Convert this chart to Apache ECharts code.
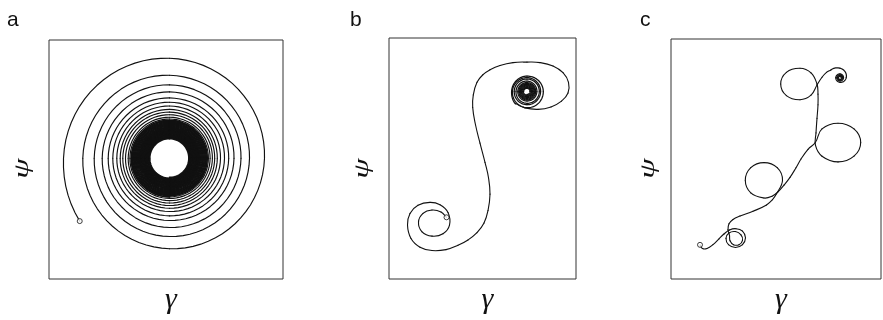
<!DOCTYPE html>
<html>
<head>
<meta charset="utf-8">
<script src="https://cdn.jsdelivr.net/npm/echarts@6/dist/echarts.min.js"></script>
<style>
  html, body { margin: 0; padding: 0; background: #fff; }
  #chart { width: 883px; height: 320px; }
</style>
</head>
<body>
<div id="chart"></div>
<script>
// ---------- data ----------
// Panel a: a single trajectory spiralling in from the open circle.
// First sample as [radius, angle°]; then radii every quarter turn,
// clockwise, starting on the left (180°).
const spiralAStart = [109.6, 215];
const spiralACenter = [120.5, 124.3];          // (γ, ψ) of the centre
const spiralAOuter = [
  106, 100, 95, 90.5,   86.7, 83, 80, 78.3,   75.3, 73.4, 71.5, 69.3,
  67.3, 66.3, 64.5, 62.3,   61.3, 60.3, 59.2, 57.6,   56.7, 56, 55, 53.3,
  52.7, 52.2, 51, 50,   49.3, 48.8, 47.8, 47.3,   46.7, 46.1, 45.2, 44.8,
  44, 43.5, 42.9, 42.4,   41.3, 41, 40.6, 40.2,   39.6, 39.2, 38.9, 38.6
];
const spiralACore = [
  38.2, 37.9, 37.7, 37.4,  37.2, 36.9, 36.7, 36.4,  36.2, 35.9, 35.7, 35.4,
  35.2, 34.9, 34.7, 34.4,  34.2, 33.9, 33.7, 33.4,  33.2, 32.9, 32.7, 32.4,
  32.2, 31.9, 31.7, 31.4,  31.2, 30.9, 30.7, 30.4,  30.2, 30.0, 29.8, 29.6,
  29.4, 29.2, 29.0, 28.8,  28.6, 28.4, 28.2, 28.0,  27.8, 27.6, 27.4, 27.2,
  27.0, 26.8, 26.6, 26.4,  26.2, 26.0, 25.8, 25.6,  25.4, 25.2, 25.0, 24.8,
  24.6, 24.4, 24.2, 24.0,  23.8, 23.6, 23.4, 23.2,  23.0, 22.8, 22.6, 22.4,
  22.2, 22.0, 21.8, 21.6,  21.4, 21.2, 21.0, 20.8,  20.6, 20.4, 20.2, 20.0,
  19.8, 19.6, 19.4, 19.2
];

// Panel b: path (γ, ψ) from the open circle through the S, then the
// spiral into the upper-right focus.
const curveB = [
  [57.5, 64], [52, 69.5], [43, 71.5], [34, 68], [29.5, 59], [33, 49], [43, 44.5],
  [54, 47], [60.5, 56], [59, 69], [51, 77], [41, 79.5], [29, 76.5], [21, 68],
  [18.5, 56], [22, 42], [31, 33], [43, 29.5], [57, 30.5], [69, 35], [79, 40.5],
  [88, 48], [95, 58], [99, 71], [101, 88], [99.5, 105], [96, 121], [91, 141],
  [86.5, 160], [83.7, 178], [84.3, 191], [88, 204], [94, 212], [101, 217],
  [111, 221.5], [124, 224.5], [138, 225], [151, 224.5], [164, 221], [174, 214],
  [179.5, 204], [179, 193], [172.5, 184.5], [162, 178.5], [149, 176], [136, 177.5],
  [126.5, 182]
];
const spiralBCenter = [138, 194.5];
const spiralBStart = [17, 227];
const spiralBRadii = [
  15.4, 15.4, 16.3, 16.2,  14.6, 13.9, 13.6, 13.2,  12.8, 12.5, 12.3, 11.8,
  11.0, 10.4, 9.9, 9.5,   9.2, 8.9, 8.7, 8.4,   8.2, 8.0, 7.8, 7.6,
  7.4, 7.2, 7.0, 6.8,   6.6, 6.4, 6.2, 6.0,   5.8, 5.6, 5.4, 5.2,
  5.0, 4.8, 4.6, 4.4,   4.2, 4.0, 3.8, 3.6,   3.4, 3.2, 3.0, 2.9
];

// Panel c: path with three loops, ending in a small focus.
const curveC = [
  [29, 35.3], [31.5, 31.5], [36, 31.5], [42, 35.5], [48, 41.5], [53, 46.5],
  [58.5, 50.7], [65, 52], [71.5, 49.5], [74.5, 42.5], [71.5, 35.5], [64.5, 32.5],
  [57.5, 35.5], [55, 42], [58, 47.5], [64.5, 49], [70, 45.5], [71.5, 40],
  [68, 35.5], [62.5, 35.5], [59, 39.5], [58.5, 45], [57, 51], [58, 57],
  [62, 61.5], [69, 65], [82, 70], [95.5, 76.5], [101.5, 82], [105.5, 88],
  [111.5, 102], [106.2, 115.1], [93, 120.3], [79.8, 115.1], [74.3, 102],
  [79.8, 88.9], [93, 83.7], [101, 85.5], [107, 90], [113, 97], [119, 105],
  [125, 115], [130, 124], [137, 134], [144.3, 141],
  [151, 155.1], [167, 161], [183, 155.1], [189.7, 141], [183, 126.9], [167, 121],
  [151, 126.9], [144.5, 138], [145, 151], [146, 166], [147, 180], [147, 191],
  [146, 201.5], [140, 213], [129, 217.7], [115.4, 213.5], [109.7, 201.5],
  [115.4, 189.5], [129, 185.3], [140, 190], [146, 200.5], [151, 208.5],
  [155.5, 213.5], [160, 216]
];
const spiralCCenter = [169, 208];
const spiralCStart = [12, 138.4];
const spiralCRadii = [9.5, 6.2, 4.6, 4.2, 3.8, 3.5, 3.3, 3.1, 2.9, 2.7, 2.5, 2.3, 2.1, 1.9, 1.7, 1.5, 1.3, 1.1];

const panelLetters = ['a', 'b', 'c'];
const gammaMax = [234, 187, 210];
const psiMax = [246, 250, 248];

// ---------- layout ----------
const gridBoxes = [
  { left: 49, top: 40, width: 234, height: 246 },
  { left: 389, top: 38, width: 187, height: 250 },
  { left: 671, top: 39, width: 210, height: 248 }
];
const letterPos = [[7, 10], [350, 10], [640, 10]];
const psiLabelPos = [[22.5, 168.5], [362.5, 168.5], [649, 168.5]];
const ink = '#111';

// turn a radius list into [radius, angle] samples, one per quarter turn, clockwise
function quarterTurns(first, startAngle, radii) {
  const pts = [first];
  radii.forEach((r, i) => pts.push([r, startAngle - 90 * i]));
  return pts;
}

// Cartesian path: each item draws the cubic Bézier piece from the previous
// sample to itself, tangents taken from the neighbouring samples.
function smoothPath(coordOpts, data, smooth, width) {
  return Object.assign({
    type: 'custom', data: data, silent: true,
    renderItem: function (params, api) {
      const i = params.dataIndexInside, n = params.dataInsideLength;
      if (i === 0) return null;
      const pt = k => {
        k = Math.max(0, Math.min(n - 1, k));
        return api.coord([api.value(0, k), api.value(1, k)]);
      };
      const p0 = pt(i - 2), p1 = pt(i - 1), p2 = pt(i), p3 = pt(i + 1);
      const d = (a, b) => Math.hypot(a[0] - b[0], a[1] - b[1]);
      const dPrev = d(p1, p0), dMid = d(p2, p1), dNext = d(p3, p2);
      const r1 = (dPrev + dMid) > 0 ? dMid / (dPrev + dMid) : 0.5;
      const r2 = (dMid + dNext) > 0 ? dMid / (dMid + dNext) : 0.5;
      const c1 = [p1[0] + (p2[0] - p0[0]) * smooth * r1, p1[1] + (p2[1] - p0[1]) * smooth * r1];
      const c2 = [p2[0] - (p3[0] - p1[0]) * smooth * r2, p2[1] - (p3[1] - p1[1]) * smooth * r2];
      return {
        type: 'bezierCurve',
        shape: { x1: p1[0], y1: p1[1], cpx1: c1[0], cpy1: c1[1], cpx2: c2[0], cpy2: c2[1], x2: p2[0], y2: p2[1] },
        style: { stroke: ink, lineWidth: width, fill: null, lineCap: 'round' }
      };
    }
  }, coordOpts);
}

// Polar path: between two [radius, angle] samples the radius follows a cubic
// Hermite curve in angle, so each quarter turn is drawn as a true arc.
function spiralPath(polarIndex, data, width) {
  return {
    type: 'custom', coordinateSystem: 'polar', polarIndex: polarIndex, data: data, silent: true,
    renderItem: function (params, api) {
      const i = params.dataIndexInside, n = params.dataInsideLength;
      if (i === 0) return null;
      const s = k => {
        k = Math.max(0, Math.min(n - 1, k));
        return [api.value(0, k), api.value(1, k)];
      };
      const a = s(i - 2), b = s(i - 1), c = s(i), e = s(i + 1);
      const slope = (p, q) => (q[1] !== p[1] ? (q[0] - p[0]) / (q[1] - p[1]) : 0);
      const mb = slope(a, c), mc = slope(b, e);
      const h = c[1] - b[1];
      const steps = Math.max(2, Math.ceil(Math.abs(h) / 5));
      const points = [];
      for (let j = 0; j <= steps; j++) {
        const t = j / steps, t2 = t * t, t3 = t2 * t;
        const r = (2 * t3 - 3 * t2 + 1) * b[0] + (t3 - 2 * t2 + t) * h * mb
                + (-2 * t3 + 3 * t2) * c[0] + (t3 - t2) * h * mc;
        const p = api.coord([r, b[1] + h * t]);
        points.push([p[0], p[1]]);
      }
      return {
        type: 'polyline',
        shape: { points: points },
        style: { stroke: ink, lineWidth: width, fill: null, lineCap: 'round', lineJoin: 'round' }
      };
    }
  };
}

const chart = echarts.init(document.getElementById('chart'));

const serifItalic = { fontFamily: 'Liberation Serif', fontStyle: 'italic', fontSize: 30, color: ink };

chart.setOption({
  animation: false,
  title: panelLetters.map((t, i) => ({
    text: t, left: letterPos[i][0], top: letterPos[i][1], padding: 0,
    textStyle: { fontFamily: 'Liberation Sans', fontSize: 21, fontWeight: 'normal', color: ink }
  })),
  grid: gridBoxes.map(g => Object.assign({ show: true, borderColor: '#333', borderWidth: 1, backgroundColor: 'transparent' }, g)),
  xAxis: gammaMax.map((m, i) => ({
    type: 'value', gridIndex: i, min: 0, max: m,
    axisLine: { show: false }, axisTick: { show: false }, axisLabel: { show: false }, splitLine: { show: false },
    name: 'γ', nameLocation: 'middle', nameGap: 6,
    nameTextStyle: Object.assign({ padding: [0, 0, 0, 10] }, serifItalic)
  })),
  yAxis: psiMax.map((m, i) => ({
    type: 'value', gridIndex: i, min: 0, max: m,
    axisLine: { show: false }, axisTick: { show: false }, axisLabel: { show: false }, splitLine: { show: false }
  })),
  // ψ axis titles: rotated, set narrow and tall
  graphic: psiLabelPos.map(p => ({
    type: 'text', x: p[0], y: p[1], rotation: Math.PI / 2, scaleX: 1.1, scaleY: 0.68, silent: true,
    style: { text: 'ψ', font: 'italic 30px "Liberation Serif", serif', fill: ink, align: 'center', verticalAlign: 'middle' }
  }))
});

// polar frames sitting on each spiral centre, using the grid's own scale
function polarFrame(gridIndex, center, maxR) {
  const c = chart.convertToPixel({ gridIndex }, center);
  const o = chart.convertToPixel({ gridIndex }, [0, 0]);
  const u = chart.convertToPixel({ gridIndex }, [1, 0]);
  return { center: c, radius: maxR * (u[0] - o[0]) };
}
const polarMax = [112, 20, 14];
const frames = [
  polarFrame(0, spiralACenter, polarMax[0]),
  polarFrame(1, spiralBCenter, polarMax[1]),
  polarFrame(2, spiralCCenter, polarMax[2])
];

const samplesA = quarterTurns(spiralAStart, 180, spiralAOuter.concat(spiralACore));
const startMark = { color: '#fff', borderColor: ink, borderWidth: 1 };

chart.setOption({
  polar: frames.map(f => ({ center: f.center, radius: f.radius })),
  angleAxis: frames.map((f, i) => ({
    polarIndex: i, type: 'value', min: 0, max: 360, startAngle: 0, clockwise: false, show: false
  })),
  radiusAxis: frames.map((f, i) => ({
    polarIndex: i, type: 'value', min: 0, max: polarMax[i], show: false
  })),
  series: [
    spiralPath(0, samplesA.slice(0, spiralAOuter.length + 2), 1.15),
    spiralPath(0, samplesA.slice(spiralAOuter.length), 1.7),
    smoothPath({ coordinateSystem: 'cartesian2d', xAxisIndex: 1, yAxisIndex: 1 }, curveB, 0.42, 1.1),
    spiralPath(1, quarterTurns(spiralBStart, 180, spiralBRadii), 1.25),
    smoothPath({ coordinateSystem: 'cartesian2d', xAxisIndex: 2, yAxisIndex: 2 }, curveC, 0.42, 1.1),
    spiralPath(2, quarterTurns(spiralCStart, 90, spiralCRadii), 1.2),
    { type: 'scatter', coordinateSystem: 'polar', polarIndex: 0, symbol: 'circle', symbolSize: 5,
      itemStyle: startMark, z: 3, silent: true, data: [spiralAStart] },
    { type: 'scatter', xAxisIndex: 1, yAxisIndex: 1, symbol: 'circle', symbolSize: 5,
      itemStyle: startMark, z: 3, silent: true, data: [curveB[0]] },
    { type: 'scatter', xAxisIndex: 2, yAxisIndex: 2, symbol: 'circle', symbolSize: 5,
      itemStyle: startMark, z: 3, silent: true, data: [curveC[0]] }
  ]
});
</script>
</body>
</html>
